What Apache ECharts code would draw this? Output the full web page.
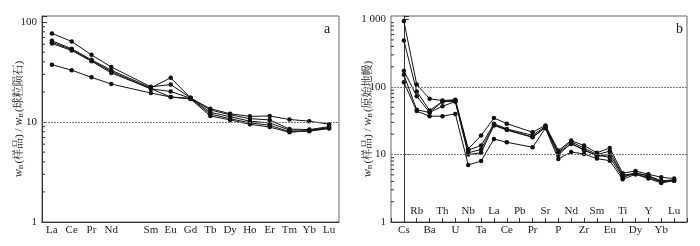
<!DOCTYPE html>
<html>
<head>
<meta charset="utf-8">
<script src="https://cdn.jsdelivr.net/npm/echarts@6/dist/echarts.min.js"></script>
<style>
  html, body { margin: 0; padding: 0; background: #fff; }
  #chart { width: 700px; height: 246px; }
</style>
</head>
<body>
<div id="chart"></div>
<script>
// a: chondrite-normalized REE (Pm left blank)
const reeElements = ["La", "Ce", "Pr", "Nd", "", "Sm", "Eu", "Gd", "Tb", "Dy", "Ho", "Er", "Tm", "Yb", "Lu"];
const reeS1 = [77, 64, 47, 35.5, null, 22.5, 23.7, 17.5, 12.5, 11.3, 10.2, 9.8, 8.3, 8.3, 8.8];
const reeS2 = [65, 54, 42, 33, null, 22, 27.7, 17.5, 13.2, 11.8, 10.8, 10.5, 8.5, 8.4, 9.0];
const reeS3 = [63, 53, 41, 32, null, 21.5, 20.2, 17.3, 12, 10.8, 9.8, 9.3, 8.0, 8.1, 8.6];
const reeS4 = [61, 52, 40.5, 31, null, 21.5, 17.8, 17, 11.5, 10.5, 9.5, 8.9, 7.9, 8.2, 8.7];
const reeS5 = [37.5, 33, 28, 24, null, 19.5, 17.8, 17.3, 13.6, 12.1, 11.4, 11.5, 10.6, 10.2, 9.5];

// b: primitive-mantle-normalized spider diagram (no Pb data)
const spiderElements = ["Cs", "Rb", "Ba", "Th", "U", "Nb", "Ta", "La", "Ce", "Pb", "Pr",
  "Sr", "P", "Nd", "Zr", "Sm", "Eu", "Ti", "Dy", "Y", "Yb", "Lu"];
const spS1 = [950, 109, 67, 63, 65, 12.1, 19.1, 34.8, 28.7, null, 21.4, 27, 11.5, 16.1, 13.6, 10.6, 12.5, 5.3, 5.7, 5.1, 4.6, 4.4];
const spS2 = [490, 86, 45, 61, 64, 11.6, 13.6, 28.7, 23.9, null, 19.3, 26, 10.9, 15.4, 12.5, 10, 11.2, 4.9, 5.3, 4.8, 4.1, 4.2];
const spS3 = [175, 73, 42, 52, 61, 10.6, 11.9, 27.8, 23.4, null, 18.2, 25.5, 10.6, 14.3, 11.9, 9.4, 10, 4.9, 5.1, 4.6, 3.9, 4.1];
const spS4 = [152, 46, 42, 61, 61, 10, 10.6, 27, 23, null, 18, 25, 9.8, 14.8, 11.5, 9.8, 9.1, 4.6, 5.3, 4.9, 3.9, 4.2];
const spS5 = [118, 44, 37, 37, 40, 7.0, 8.0, 17, 15.2, null, 12.8, 24.5, 8.6, 10.9, 10.2, 8.7, 8.1, 4.3, 5.1, 4.4, 3.8, 4.1];

const yLabelsA = { 1: "1", 10: "10", 100: "100" };
const yLabelsB = { 1: "1", 10: "10", 100: "100", 1000: "1 000" };
const minorTicksA = [2, 3, 4, 5, 6, 7, 8, 9, 20, 30, 40, 50, 60, 70, 80, 90];
const minorTicksB = minorTicksA.concat([200, 300, 400, 500, 600, 700, 800, 900]);
const refLinesA = [10];
const refLinesB = [10, 100];

const serif = "'Liberation Serif', 'Times New Roman', serif";
const cjkSerif = "'Liberation Serif', 'Noto Serif CJK SC', 'Noto Sans CJK SC', serif";
const ink = "#111";

const chart = echarts.init(document.getElementById("chart"));

function nameStyle() {
  return {
    fontFamily: cjkSerif,
    fontSize: 11,
    color: "#222",
    rich: {
      i: { fontFamily: serif, fontStyle: "italic", fontSize: 12, color: "#222" },
      s: { fontFamily: serif, fontSize: 7, color: "#222", verticalAlign: "bottom", padding: [5, 1, 0, 0] }
    }
  };
}

function logAxis(gridIndex, max, labels, name) {
  return {
    type: "log",
    logBase: 10,
    gridIndex: gridIndex,
    min: 1,
    max: max,
    name: name,
    nameLocation: "middle",
    nameRotate: 90,
    nameGap: 17,
    nameMoveOverlap: false,
    nameTextStyle: nameStyle(),
    axisLine: { show: true, lineStyle: { color: "#333", width: 1 } },
    axisTick: { show: true, inside: true, length: 5, lineStyle: { color: "#333" } },
    axisLabel: {
      margin: 5,
      fontFamily: serif,
      fontSize: 11,
      color: "#222",
      formatter: function (v) { return labels[Math.round(v)] || ""; }
    },
    splitLine: { show: false }
  };
}

function lineSeries(data, xi, yi, refs) {
  const s = {
    type: "line",
    xAxisIndex: xi,
    yAxisIndex: yi,
    data: data,
    connectNulls: true,
    symbol: "circle",
    symbolSize: 4.5,
    lineStyle: { color: ink, width: 1 },
    itemStyle: { color: ink },
    animation: false
  };
  if (refs) {
    s.markLine = {
      silent: true,
      symbol: "none",
      label: { show: false },
      lineStyle: { color: "#777", type: [2, 1], width: 1.2 },
      data: refs.map(function (r) { return { yAxis: r }; })
    };
  }
  return s;
}

function minorTickSeries(values, xi, yi) {
  return {
    type: "custom",
    xAxisIndex: xi,
    yAxisIndex: yi,
    silent: true,
    animation: false,
    data: values.map(function (v) { return [0, v]; }),
    renderItem: function (params, api) {
      const y = api.coord([api.value(0), api.value(1)])[1];
      const x0 = params.coordSys.x;
      return {
        type: "line",
        shape: { x1: x0, y1: y, x2: x0 + 3, y2: y },
        style: { stroke: "#333", lineWidth: 1 }
      };
    }
  };
}

const pairs = function (arr) {
  return arr.map(function (v, i) { return [i, v]; }).filter(function (d) { return d[1] != null; });
};

const option = {
  backgroundColor: "#fff",
  animation: false,
  title: [
    { text: "a", left: 319, top: 17, textStyle: { fontFamily: serif, fontSize: 14, fontWeight: "normal", color: "#222" } },
    { text: "b", left: 671, top: 17, textStyle: { fontFamily: serif, fontSize: 14, fontWeight: "normal", color: "#222" } }
  ],
  grid: [
    { left: 42, top: 16, width: 297, height: 206, show: true, borderColor: "#666", borderWidth: 1 },
    { left: 391, top: 16, width: 296, height: 206, show: true, borderColor: "#666", borderWidth: 1 }
  ],
  xAxis: [
    {
      type: "category",
      gridIndex: 0,
      data: reeElements,
      boundaryGap: true,
      axisLine: { lineStyle: { color: "#333" } },
      axisTick: { inside: true, length: 4, alignWithLabel: true, interval: 0, lineStyle: { color: "#333" } },
      axisLabel: { interval: 0, margin: 3, fontFamily: serif, fontSize: 11, color: "#222" }
    },
    {
      type: "value",
      gridIndex: 1,
      min: -1,
      max: 22,
      interval: 1,
      position: "bottom",
      axisLine: { lineStyle: { color: "#333" } },
      axisTick: { inside: true, length: 4, lineStyle: { color: "#333" } },
      axisLabel: {
        margin: 3,
        fontFamily: serif,
        fontSize: 11,
        color: "#222",
        formatter: function (v) { return v >= 0 && v % 2 === 0 ? (spiderElements[v] || "") : ""; }
      },
      splitLine: { show: false }
    },
    {
      type: "value",
      gridIndex: 1,
      min: -1,
      max: 22,
      interval: 1,
      position: "bottom",
      axisLine: { show: false },
      axisTick: { show: false },
      axisLabel: {
        inside: true,
        margin: 5,
        fontFamily: serif,
        fontSize: 11,
        color: "#222",
        formatter: function (v) { return v >= 0 && v % 2 === 1 ? (spiderElements[v] || "") : ""; }
      },
      splitLine: { show: false }
    }
  ],
  yAxis: [
    logAxis(0, 115, yLabelsA, "{i|w}{s|B}(样品) / {i|w}{s|B}(球粒陨石)"),
    logAxis(1, 1130, yLabelsB, "{i|w}{s|B}(样品) / {i|w}{s|B}(原始地幔)")
  ],
  series: [
    minorTickSeries(minorTicksA, 0, 0),
    minorTickSeries(minorTicksB, 1, 1),
    lineSeries(reeS1, 0, 0, refLinesA),
    lineSeries(reeS2, 0, 0),
    lineSeries(reeS3, 0, 0),
    lineSeries(reeS4, 0, 0),
    lineSeries(reeS5, 0, 0),
    lineSeries(pairs(spS1), 1, 1, refLinesB),
    lineSeries(pairs(spS2), 1, 1),
    lineSeries(pairs(spS3), 1, 1),
    lineSeries(pairs(spS4), 1, 1),
    lineSeries(pairs(spS5), 1, 1)
  ]
};

chart.setOption(option);
</script>
</body>
</html>
